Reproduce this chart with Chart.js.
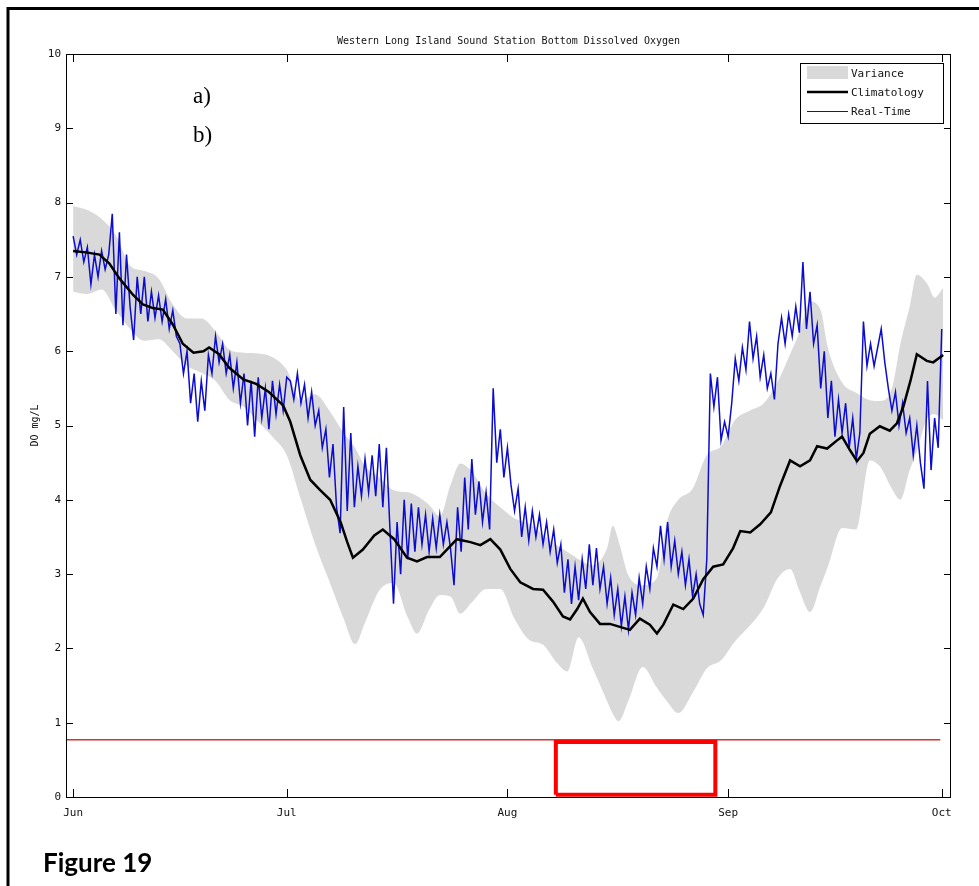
<!DOCTYPE html>
<html>
<head>
<meta charset="utf-8">
<script src="https://cdn.jsdelivr.net/npm/chart.js"></script>
<style>
    html, body { margin: 0; padding: 0; background: #fff; }
    #wrap { width: 979px; height: 886px; }
</style>
</head>
<body>
<div id="wrap"><canvas id="graficoDO" width="979" height="886"></canvas></div>
<script>
// x values are days counted from 1 June
const monthDays = [0, 30, 61, 92, 122];
const monthLabels = ['Jun', 'Jul', 'Aug', 'Sep', 'Oct'];

const bandDays = [0, 2, 4, 6, 8, 10, 12, 14, 16, 18,
    20, 22, 24, 26, 28, 30, 32, 34, 36, 38,
    39.6, 41, 43, 45, 47, 48.3, 50, 51.5, 53, 54.4,
    56, 58, 60, 62, 64, 66, 68, 69.4, 71, 73,
    75, 75.8, 76.6, 78, 80, 82, 83.4, 85, 87, 89,
    91, 93, 95, 97, 99, 100.7, 102, 103.5, 105, 106,
    108, 110, 111.9, 113.3, 115, 116.2, 117.5, 118.5, 120, 121,
    122.2];
const bandUpper = [7.95, 7.9, 7.78, 7.56, 7.15, 7.08, 6.98, 6.63, 6.44, 6.44,
    6.27, 6.02, 5.98, 5.97, 5.92, 5.75, 5.33, 5.42, 5.2, 4.9,
    4.7, 4.45, 4.3, 4.13, 4.1, 4.05, 3.93, 3.78, 4.2, 4.49,
    4.38, 4.08, 3.9, 3.75, 3.68, 3.53, 3.38, 3.3, 3.2, 3.12,
    3.35, 3.65, 3.45, 2.98, 2.85, 2.95, 3.7, 4.0, 4.15, 4.6,
    4.72, 5.08, 5.2, 5.3, 5.6, 5.96, 6.25, 6.67, 6.55, 6.05,
    5.58, 5.44, 5.34, 5.33, 5.5, 6.1, 6.6, 7.03, 6.9, 6.72,
    6.85];
const bandLower = [6.8, 6.77, 6.83, 6.55, 6.3, 6.14, 6.16, 6.0, 5.8, 5.71,
    5.6, 5.34, 5.25, 5.05, 4.85, 4.6, 4.0, 3.4, 2.9, 2.4,
    2.06, 2.35, 2.78, 2.88, 2.42, 2.2, 2.52, 2.72, 2.7, 2.47,
    2.62, 2.8, 2.8, 2.4, 2.12, 2.05, 1.8, 1.69, 2.15, 1.73,
    1.29, 1.12, 1.02, 1.3, 1.75, 1.47, 1.29, 1.13, 1.4, 1.73,
    1.84, 2.1, 2.3, 2.55, 2.95, 3.07, 2.78, 2.49, 2.85, 3.1,
    3.62, 3.6, 4.53, 4.45, 4.15, 4.0, 4.4, 4.65, 5.1, 5.15,
    5.07];

const climDays = [0, 1.8, 3.7, 5.1, 6.5, 8.4, 9.8, 11.2, 12.6, 14.0,
    15.4, 16.9, 18.3, 19.1, 20.5, 21.9, 23.9, 25.7, 27.5, 29.5,
    30.5, 31.9, 33.3, 34.7, 36.1, 37.6, 38.5, 39.3, 40.7, 42.3,
    43.5, 45.1, 46.9, 48.3, 49.7, 51.5, 52.5, 53.9, 55.8, 57.2,
    58.6, 60.0, 61.4, 62.8, 64.6, 66.0, 67.4, 68.8, 69.8, 70.8,
    71.6, 72.6, 74.0, 75.4, 76.8, 78.2, 79.6, 81.0, 82.0, 82.9,
    84.3, 85.7, 87.1, 88.5, 89.9, 91.3, 92.7, 93.7, 95.1, 96.5,
    98.0, 99.3, 100.7, 102.1, 103.5, 104.5, 105.9, 107.3, 108.0, 109.1,
    110.1, 111.0, 111.9, 113.3, 114.7, 115.7, 116.6, 117.6, 118.5, 119.9,
    120.8, 122.2];
const climVals = [7.35, 7.33, 7.3, 7.18, 6.98, 6.76, 6.63, 6.58, 6.56, 6.36,
    6.1, 5.98, 6.0, 6.05, 5.96, 5.78, 5.62, 5.56, 5.45, 5.27,
    5.05, 4.6, 4.27, 4.13, 4.0, 3.69, 3.43, 3.22, 3.33, 3.52,
    3.6, 3.47, 3.22, 3.17, 3.23, 3.23, 3.33, 3.47, 3.43, 3.39,
    3.47, 3.33, 3.07, 2.89, 2.8, 2.79, 2.63, 2.43, 2.39, 2.53,
    2.67, 2.49, 2.33, 2.33, 2.29, 2.25, 2.4, 2.32, 2.2, 2.32,
    2.59, 2.53, 2.67, 2.93, 3.1, 3.13, 3.35, 3.58, 3.56, 3.67,
    3.83, 4.19, 4.53, 4.45, 4.53, 4.72, 4.69, 4.8, 4.85, 4.67,
    4.52, 4.63, 4.89, 4.99, 4.93, 5.03, 5.25, 5.6, 5.96, 5.87,
    5.85, 5.95];

// real-time record, one reading every half day from 1 June
const rtStep = 0.5;
const rtJun = [7.55, 7.3, 7.5, 7.2, 7.4, 6.9, 7.3, 7.0, 7.35, 7.1,
    7.3, 7.85, 6.5, 7.6, 6.35, 7.3, 6.6, 6.15, 7.0, 6.5,
    7.0, 6.4, 6.8, 6.45, 6.75, 6.4, 6.7, 6.3, 6.55, 6.2,
    6.1, 5.7, 6.0, 5.3, 5.7, 5.05, 5.6, 5.2, 5.95, 5.7,
    6.2, 5.85, 6.1, 5.7, 5.95, 5.5, 5.85, 5.3, 5.7, 5.0,
    5.6, 4.85, 5.65, 5.1, 5.5, 4.95, 5.6, 5.15, 5.55, 5.2,
    5.65];
const rtJul = [5.6, 5.35, 5.7, 5.3, 5.55, 5.1, 5.45, 5.0, 5.2, 4.7,
    4.95, 4.3, 4.75, 3.9, 3.55, 5.25, 3.85, 4.9, 3.9, 4.45,
    4.05, 4.55, 4.1, 4.6, 4.05, 4.75, 3.9, 4.7, 3.6, 2.6,
    3.7, 3.0, 4.0, 3.2, 3.95, 3.3, 3.9, 3.4, 3.8, 3.3,
    3.75, 3.35, 3.8, 3.4, 3.7, 3.35, 2.85, 3.9, 3.3, 4.3,
    3.6, 4.55, 3.8, 4.25, 3.7, 4.1, 3.6, 5.5, 4.5, 4.95,
    4.3, 4.7];
const rtAug = [4.2, 3.85, 4.15, 3.5, 3.9, 3.45, 3.85, 3.5, 3.8, 3.4,
    3.7, 3.3, 3.6, 3.15, 3.4, 2.75, 3.2, 2.6, 3.1, 2.65,
    3.2, 2.8, 3.4, 2.85, 3.35, 2.8, 3.1, 2.6, 2.95, 2.45,
    2.8, 2.3, 2.7, 2.25, 2.75, 2.45, 2.95, 2.6, 3.1, 2.8,
    3.35, 3.1, 3.65, 3.2, 3.7, 3.1, 3.45, 3.0, 3.3, 2.85,
    3.2, 2.7, 3.0, 2.6, 2.45, 3.2, 5.7, 5.25, 5.65, 4.8,
    5.05, 4.85];
const rtSep = [5.3, 5.9, 5.6, 6.05, 5.75, 6.4, 5.9, 6.2, 5.65, 5.95,
    5.5, 5.7, 5.35, 6.1, 6.45, 6.1, 6.5, 6.2, 6.6, 6.25,
    7.2, 6.3, 6.8, 6.1, 6.35, 5.5, 6.0, 5.1, 5.6, 4.85,
    5.35, 4.9, 5.3, 4.7, 5.1, 4.55, 4.9, 6.4, 5.8, 6.1,
    5.8, 6.05, 6.3, 5.85, 5.5, 5.2, 5.45, 5.0, 5.3, 4.9,
    5.1, 4.6, 5.0, 4.5, 4.15, 5.6, 4.4, 5.1, 4.7, 6.3];

const limitDays = [-1, 121.8];
const limitLevel = 0.77;
const boxDays = [67.8, 90.2];
const boxLevels = [0.03, 0.74];

const corVariancia = '#d9d9d9';
const corClima = '#000000';
const corTempoReal = '#0c0cd0';
const mono = '"DejaVu Sans Mono", monospace';

const realTime = [...rtJun, ...rtJul, ...rtAug, ...rtSep].map((v, i) => ({ x: i * rtStep, y: v }));
const pontos = (xs, ys) => xs.map((x, i) => ({ x: x, y: ys[i] }));

const extras = {
    id: 'extras',
    afterDraw(chart) {
        const ctx = chart.ctx;
        const a = chart.chartArea;
        const xs = chart.scales.x;
        const ys = chart.scales.y;
        ctx.save();

        // axes box with inward ticks on every side
        ctx.strokeStyle = '#000';
        ctx.lineWidth = 1;
        ctx.strokeRect(a.left + 0.5, a.top + 0.5, a.right - a.left - 1, a.bottom - a.top);
        ctx.beginPath();
        monthDays.forEach(d => {
            const px = Math.round(xs.getPixelForValue(d)) + 0.5;
            ctx.moveTo(px, a.bottom); ctx.lineTo(px, a.bottom - 8);
            ctx.moveTo(px, a.top); ctx.lineTo(px, a.top + 8);
        });
        ys.ticks.forEach(t => {
            const py = Math.round(ys.getPixelForValue(t.value)) + 0.5;
            ctx.moveTo(a.left, py); ctx.lineTo(a.left + 7, py);
            ctx.moveTo(a.right, py); ctx.lineTo(a.right - 7, py);
        });
        ctx.stroke();

        // title
        ctx.fillStyle = '#111';
        ctx.font = '10px ' + mono;
        ctx.textAlign = 'center';
        ctx.textBaseline = 'middle';
        ctx.fillText('Western Long Island Sound Station Bottom Dissolved Oxygen', (a.left + a.right) / 2, 41);

        // legend
        ctx.fillStyle = '#fff';
        ctx.fillRect(800, 63, 143, 60);
        ctx.strokeStyle = '#000';
        ctx.strokeRect(800.5, 63.5, 143, 60);
        ctx.fillStyle = corVariancia;
        ctx.fillRect(807, 66, 41, 13);
        ctx.strokeStyle = corClima;
        ctx.lineWidth = 2.5;
        ctx.beginPath(); ctx.moveTo(807, 92); ctx.lineTo(848, 92); ctx.stroke();
        ctx.strokeStyle = corTempoReal;
        ctx.lineWidth = 1;
        ctx.beginPath(); ctx.moveTo(807, 111.5); ctx.lineTo(848, 111.5); ctx.stroke();
        ctx.fillStyle = '#111';
        ctx.font = '11px ' + mono;
        ctx.textAlign = 'left';
        chart.data.datasets.filter(ds => ds.legendRow).forEach(ds => {
            ctx.fillText(ds.label, 851, ds.legendRow);
        });

        // panel marks
        ctx.fillStyle = '#000';
        ctx.font = '23px "Liberation Serif", serif';
        ctx.fillText('a)', 193, 97);
        ctx.fillText('b)', 193, 136);

        ctx.font = 'bold 26px Lato, "Open Sans", sans-serif';
        ctx.textBaseline = 'alphabetic';
        ctx.fillText('Figure 19', 43, 872);

        // frame of the figure
        ctx.strokeStyle = '#000';
        ctx.lineWidth = 3;
        ctx.beginPath();
        ctx.moveTo(8, 886); ctx.lineTo(8, 8.5); ctx.lineTo(979, 8.5);
        ctx.stroke();
        ctx.restore();
    }
};

new Chart(document.getElementById('graficoDO').getContext('2d'), {
    type: 'line',
    data: {
        datasets: [
            {
                label: 'Variance low',
                data: pontos(bandDays, bandLower),
                borderColor: 'rgba(0,0,0,0)',
                borderWidth: 0,
                pointRadius: 0,
                cubicInterpolationMode: 'monotone',
                fill: false,
                order: 6
            },
            {
                label: 'Variance',
                legendRow: 74,
                data: pontos(bandDays, bandUpper),
                borderColor: 'rgba(0,0,0,0)',
                borderWidth: 0,
                backgroundColor: corVariancia,
                pointRadius: 0,
                cubicInterpolationMode: 'monotone',
                fill: '-1',
                order: 5
            },
            {
                label: 'Real-Time',
                legendRow: 112,
                data: realTime,
                borderColor: corTempoReal,
                borderWidth: 1.5,
                pointRadius: 0,
                order: 4
            },
            {
                label: 'Climatology',
                legendRow: 93,
                data: pontos(climDays, climVals),
                borderColor: corClima,
                borderWidth: 2.5,
                pointRadius: 0,
                order: 3
            },
            {
                label: 'limit',
                data: limitDays.map(d => ({ x: d, y: limitLevel })),
                borderColor: '#d83030',
                borderWidth: 1.5,
                pointRadius: 0,
                order: 2
            },
            {
                label: 'box',
                data: [
                    { x: boxDays[0], y: boxLevels[0] },
                    { x: boxDays[0], y: boxLevels[1] },
                    { x: boxDays[1], y: boxLevels[1] },
                    { x: boxDays[1], y: boxLevels[0] },
                    { x: boxDays[0], y: boxLevels[0] }
                ],
                borderColor: '#ff0000',
                borderWidth: 4,
                borderJoinStyle: 'miter',
                pointRadius: 0,
                clip: false,
                order: 1
            }
        ]
    },
    options: {
        responsive: false,
        animation: false,
        devicePixelRatio: 1,
        events: [],
        layout: { padding: { top: 54, right: 28, left: 0, bottom: 0 } },
        plugins: {
            legend: { display: false },
            title: { display: false },
            tooltip: { enabled: false }
        },
        scales: {
            x: {
                type: 'linear',
                min: -1,
                max: 123.3,
                grid: { display: false, drawTicks: false },
                border: { display: false },
                afterBuildTicks: scale => { scale.ticks = monthDays.map(d => ({ value: d })); },
                afterFit: scale => { scale.height = 89; },
                ticks: {
                    padding: 10,
                    maxRotation: 0,
                    autoSkip: false,
                    color: '#111',
                    font: { family: mono, size: 11 },
                    callback: (v, i) => monthLabels[i]
                }
            },
            y: {
                min: 0,
                max: 10,
                grid: { display: false, drawTicks: false },
                border: { display: false },
                afterFit: scale => { scale.width = 66; },
                ticks: {
                    stepSize: 1,
                    padding: 5,
                    color: '#111',
                    font: { family: mono, size: 11 }
                },
                title: {
                    display: true,
                    text: 'DO mg/L',
                    color: '#111',
                    font: { family: mono, size: 10 },
                    padding: { top: 29, bottom: 0 }
                }
            }
        }
    },
    plugins: [extras]
});
</script>
</body>
</html>
